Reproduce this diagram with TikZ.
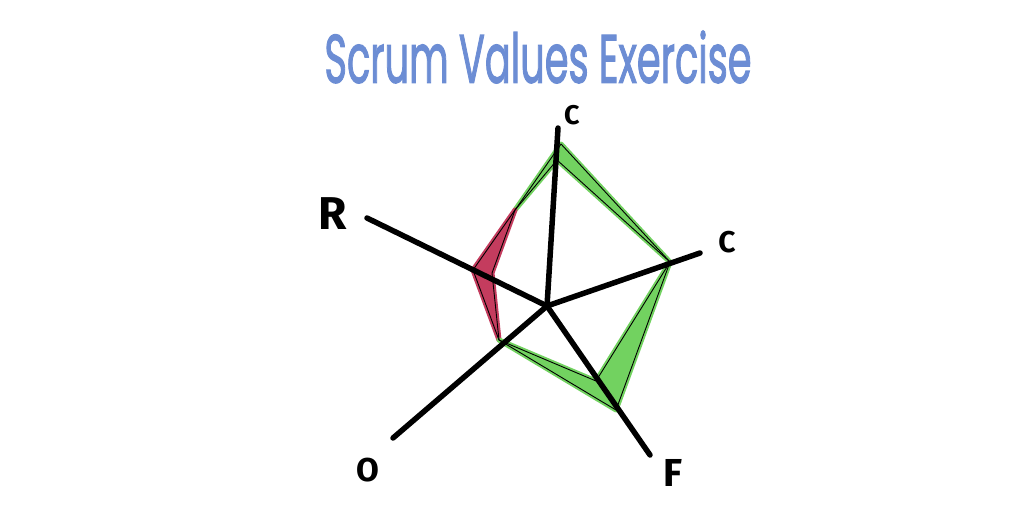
\documentclass[tikz,border=0pt]{standalone}
\usepackage{fontspec}
\usepackage{graphicx}
\newfontfamily\handfont{Fira Sans}
\newfontfamily\titlefont{Poppins}[FakeBold=2]
\definecolor{titleblue}{RGB}{108,141,212}
\definecolor{upgreen}{RGB}{114,210,96}
\definecolor{downred}{RGB}{196,60,94}
\begin{document}
\begin{tikzpicture}
[x=1pt,y=-1pt,
  axisdecorate/.style={-,line width=5.5pt,line cap=round},
  polydecorate/.style={-,line width=0.9pt,line join=round},
  labeldecorate/.style={inner sep=0pt},
  gainfill/.style={fill=upgreen,draw=upgreen,line width=5pt,line join=round},
  lossfill/.style={fill=downred,draw=downred,line width=5pt,line join=round}]
\useasboundingbox (0,0) rectangle (1024,512);
%% title
\node (title) at (538,57) [inner sep=0pt] {\resizebox{427pt}{52pt}{\titlefont\color{titleblue}Scrum Values Exercise}};
%% centre and axis ends
\coordinate (centre) at (547,306);
\foreach \nodename/\x/\y in {ctop/558/128, cright/700/253, f/650/455, o/393/438, r/367/218} {
  \coordinate (\nodename) at (\x,\y);
}
%% labels
\foreach \nodename/\x/\y/\size/\text in {ctoplabel/572/115/27/C, crightlabel/727/242/30/C,
    flabel/673/473/39/F, olabel/368/470/33/O, rlabel/333/214/46/R} {
  \node (\nodename) at (\x,\y) [labeldecorate,font={\handfont\bfseries\fontsize{\size}{\size}\selectfont}] {\text};
}
%% points of the old and the new round
\foreach \nodename/\x/\y in {oldc1/557/160, oldc2/670/262, oldf/596/381, oldo/499/340, oldr/473/270,
    newc1/561/144, newc2/670/262, newf/616/410, newo/499/340, newr/492/273, swap/515/210} {
  \coordinate (\nodename) at (\x,\y);
}
%% shading between the rounds
\path[gainfill] (newc1) -- (newc2) -- (oldc1) -- (swap) -- cycle;
\path[lossfill] (swap) -- (oldr) -- (oldo) -- (newr) -- cycle;
\path[gainfill] (oldo) -- (newf) -- (newc2) -- (oldf) -- cycle;
%% outlines
\draw[polydecorate] (newc1) -- (newc2) -- (newf) -- (newo) -- (newr) -- (swap) -- cycle;
\draw[polydecorate] (oldc1) -- (oldc2) -- (oldf) -- (oldo) -- (oldr) -- (swap) -- cycle;
%% axes
\path
\foreach \endnode in {ctop, cright, f, o, r} {
  (centre) edge[axisdecorate] (\endnode)
};
\end{tikzpicture}
\end{document}
